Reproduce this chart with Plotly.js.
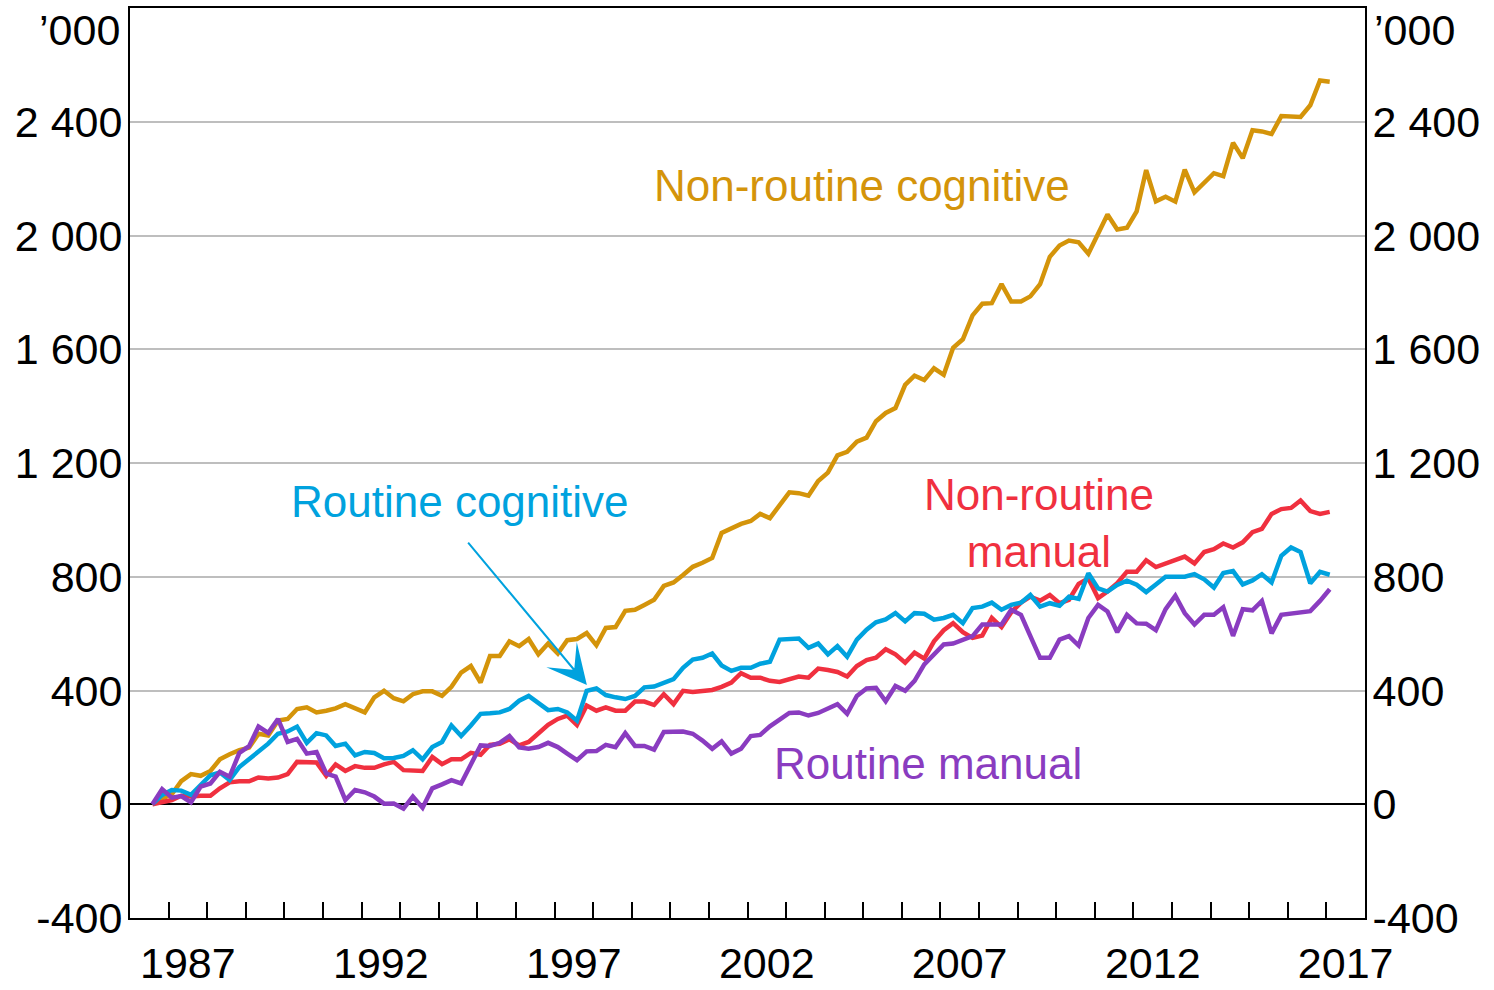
<!DOCTYPE html>
<html>
<head>
<meta charset="utf-8">
<script src="https://cdn.plot.ly/plotly-3.0.1.min.js"></script>
<style>
html,body{margin:0;padding:0;background:#fff;}
#chart{width:1494px;height:990px;}
</style>
</head>
<body>
<div id="chart"></div>
<script>
// Quarterly data, first observation Aug 1986, last Feb 2017 ('000 change since start)
var startYear = 1986, startMonth = 8, nQuarters = 123;

var nonRoutineCognitive = [
  0,20,35,81,106,100,117,158,176,190,199,248,242,294,300,335,341,323,329,337,352,337,323,376,399,
  373,362,387,397,397,381,413,463,486,428,521,521,573,556,581,527,565,530,577,581,602,559,620,623,680,684,
  701,719,768,780,806,835,849,866,954,969,986,996,1021,1006,1050,1097,1094,1085,1137,1166,1227,1239,1275,1289,1347,1376,
  1393,1475,1507,1492,1533,1510,1605,1635,1719,1760,1762,1829,1768,1768,1786,1829,1925,1965,1982,1976,1936,2010,2074,2021,2027,2085,
  2230,2120,2136,2119,2232,2152,2187,2219,2209,2326,2272,2370,2366,2357,2420,2420,2417,2458,2545,2541
];
var routineCognitive = [
  0,33,50,48,33,67,102,112,85,131,160,186,213,248,256,273,216,250,242,205,213,172,184,180,162,
  163,170,190,158,201,219,277,240,277,318,320,323,335,364,381,358,331,335,323,294,399,407,384,376,370,381,
  411,414,428,440,480,509,515,530,488,469,480,480,494,501,579,583,583,550,565,527,556,519,579,614,640,650,
  672,643,672,670,649,655,666,637,690,695,709,684,701,709,736,695,707,698,730,722,812,759,748,771,786,772,
  746,773,800,800,800,809,791,762,813,820,773,787,809,780,874,903,887,777,817,807
];
var nonRoutineManual = [
  0,9,15,30,27,30,30,56,77,81,81,94,91,94,106,149,149,147,100,140,117,134,128,128,140,
  149,120,117,117,166,141,158,158,181,174,209,213,228,207,219,248,279,300,312,279,347,329,341,329,329,361,
  361,349,387,352,399,395,399,402,413,428,461,445,445,434,430,440,449,445,477,472,465,449,486,507,515,545,
  527,498,533,512,573,612,637,605,585,593,655,623,675,709,730,716,736,707,719,775,794,725,748,777,818,818,
  858,834,847,860,871,847,887,897,917,903,921,957,968,1021,1038,1042,1068,1031,1021,1028
];
var routineManual = [
  0,53,23,29,7,62,73,114,97,181,204,273,251,300,219,230,178,184,108,97,15,50,42,27,2,
  3,-15,27,-12,56,70,85,73,137,207,205,216,240,200,195,201,216,201,178,155,186,187,209,201,250,205,
  205,192,254,254,256,248,224,195,221,178,195,240,244,274,298,321,323,312,321,337,352,318,381,407,409,362,
  416,399,434,492,527,562,565,579,591,632,632,632,684,666,591,515,515,579,591,558,655,701,678,605,666,636,
  635,612,686,733,672,632,666,666,693,592,686,682,715,601,666,670,672,679,715,756
];

var yTickVals = [-400,0,400,800,1200,1600,2000,2400];
var yTickText = ['-400','0','400','800','1 200','1 600','2 000','2 400'];
var xLabelYears = [1987,1992,1997,2002,2007,2012,2017];

// quarter dates
var quarters = [];
(function(){
  var y = startYear, m = startMonth;
  for (var i = 0; i < nQuarters; i++) {
    quarters.push(y + '-' + (m < 10 ? '0' + m : m) + '-01');
    m += 3; if (m > 12) { m -= 12; y += 1; }
  }
})();

var yearTicks = [];
for (var yy = 1987; yy <= 2017; yy++) yearTicks.push(yy + '-01-01');
var labelVals = xLabelYears.map(function(y){ return y + '-07-02'; });
var labelText = xLabelYears.map(String);

var C_GOLD = '#D4940A', C_BLUE = '#00A2DE', C_RED = '#F0303F', C_PURPLE = '#8A3CC0';
var FONT = 'Liberation Sans, Arial, sans-serif';

function tr(y, color, name, yaxis) {
  return {x: quarters, y: y, type: 'scatter', mode: 'lines', name: name,
          line: {color: color, width: 4.5}, yaxis: yaxis || 'y', hoverinfo: 'skip'};
}

var data = [
  tr(nonRoutineCognitive, C_GOLD, 'Non-routine cognitive'),
  tr(nonRoutineManual, C_RED, 'Non-routine manual'),
  tr(routineCognitive, C_BLUE, 'Routine cognitive'),
  tr(routineManual, C_PURPLE, 'Routine manual', 'y2')
];

var tickFont = {family: FONT, size: 43, color: '#000'};

var layout = {
  width: 1494, height: 990,
  margin: {l: 130, r: 129, t: 8, b: 72, pad: 0},
  paper_bgcolor: '#fff', plot_bgcolor: '#fff',
  showlegend: false,
  xaxis: {
    type: 'date', range: ['1986-01-01', '2018-01-01'],
    tickmode: 'array', tickvals: labelVals, ticktext: labelText,
    ticks: '', showgrid: false, zeroline: false,
    showline: true, linecolor: '#000', linewidth: 2, mirror: true,
    tickfont: tickFont, ticklabelstandoff: 6,
    minor: {tickmode: 'array', tickvals: yearTicks, ticks: 'inside', ticklen: 16,
            tickwidth: 2, tickcolor: '#000', showgrid: false}
  },
  yaxis: {
    range: [-400, 2800], tickmode: 'array', tickvals: yTickVals, ticktext: yTickText,
    ticks: '', showgrid: true, gridcolor: '#BEBEBE', gridwidth: 2,
    zeroline: true, zerolinecolor: '#000', zerolinewidth: 2,
    showline: true, linecolor: '#000', linewidth: 2,
    tickfont: tickFont, ticklabelstandoff: -3
  },
  yaxis2: {
    overlaying: 'y', side: 'right',
    range: [-400, 2800], tickmode: 'array', tickvals: yTickVals, ticktext: yTickText,
    ticks: '', showgrid: false, zeroline: false,
    showline: true, linecolor: '#000', linewidth: 2,
    tickfont: tickFont, ticklabelstandoff: -3
  },
  annotations: [
    {xref: 'paper', yref: 'paper', x: -0.0065, y: 0.9758, xanchor: 'right', yanchor: 'middle',
     text: '\u2019000', showarrow: false, font: tickFont},
    {xref: 'paper', yref: 'paper', x: 1.0055, y: 0.9758, xanchor: 'left', yanchor: 'middle',
     text: '\u2019000', showarrow: false, font: tickFont},
    {xref: 'paper', yref: 'paper', x: 0.5927, y: 0.8044, xanchor: 'center', yanchor: 'middle',
     text: 'Non-routine cognitive', showarrow: false, font: {family: FONT, size: 44, color: C_GOLD}},
    {xref: 'paper', yref: 'paper', x: 0.2672, y: 0.4582, xanchor: 'center', yanchor: 'middle',
     text: 'Routine cognitive', showarrow: false, font: {family: FONT, size: 44, color: C_BLUE}},
    {xref: 'paper', yref: 'paper', x: 0.736, y: 0.434, xanchor: 'center', yanchor: 'middle',
     text: 'Non-routine<br>manual', showarrow: false, font: {family: FONT, size: 44, color: C_RED}},
    {xref: 'paper', yref: 'paper', x: 0.646, y: 0.170, xanchor: 'center', yanchor: 'middle',
     text: 'Routine manual', showarrow: false, font: {family: FONT, size: 44, color: C_PURPLE}},
    {xref: 'x', yref: 'y', x: '1997-11-03', y: 419, text: '', showarrow: true,
     ax: -120, ay: -144, arrowhead: 3, arrowwidth: 2, arrowsize: 3.3, arrowcolor: C_BLUE, standoff: 0}
  ]
};

Plotly.newPlot('chart', data, layout, {displayModeBar: false, staticPlot: true});
</script>
</body>
</html>
